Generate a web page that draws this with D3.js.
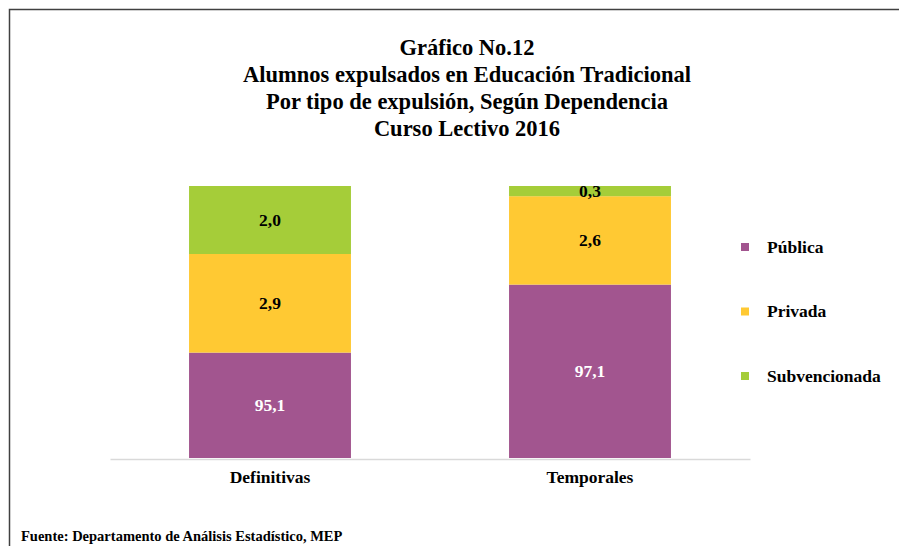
<!DOCTYPE html>
<html>
<head>
<meta charset="utf-8">
<script src="https://cdn.jsdelivr.net/npm/d3@7"></script>
<style>
  body { margin: 0; background: #fff; }
  svg text { font-family: "Liberation Serif", Tinos, "Times New Roman", Times, "DejaVu Serif", serif !important; font-weight: bold; }
</style>
</head>
<body>
<script>
// stacked bars, axis cut at 92 like the original

const categories = ['Definitivas', 'Temporales'];
const series = ['Pública', 'Privada', 'Subvencionada'];
const publica = [95.1, 97.1];
const privada = [2.9, 2.6];
const subvencionada = [2.0, 0.3];
const titleLines = ['Gráfico No.12', 'Alumnos expulsados en Educación Tradicional',
  'Por tipo de expulsión, Según Dependencia', 'Curso Lectivo 2016'];
const source = 'Fuente: Departamento de Análisis Estadístico, MEP';

const colors = ['#a2558f', '#ffc933', '#a5cd39'];

const rows = categories.map((c, i) => ({
  cat: c,
  'Pública': publica[i],
  'Privada': privada[i],
  'Subvencionada': subvencionada[i]
}));

const svgWidth = 899;
const svgHeight = 546;

const svg = d3.select('body').append('svg')
  .attr('width', svgWidth)
  .attr('height', svgHeight);

// frame (left + top)
svg.append('path')
  .attr('d', 'M9.5,546 V9.5 H899')
  .attr('fill', 'none')
  .attr('stroke', '#404040')
  .attr('stroke-width', 1.5);

// title
svg.append('g').selectAll('text')
  .data(titleLines)
  .enter()
  .append('text')
  .attr('x', 467)
  .attr('y', (d, i) => 55 + i * 27)
  .attr('text-anchor', 'middle')
  .attr('font-size', 22.5)
  .attr('fill', '#000')
  .text(d => d);

const xScale = d3.scaleBand()
  .domain(categories)
  .range([110, 750])
  .paddingInner(0.494)
  .paddingOuter(0.247);

const yScale = d3.scaleLinear()
  .domain([92, 100])
  .range([458, 186])
  .clamp(true);

const stacked = d3.stack().keys(series)(rows);

const layers = svg.selectAll('g.layer')
  .data(stacked)
  .enter()
  .append('g')
  .attr('class', 'layer')
  .attr('fill', (d, i) => colors[i]);

layers.selectAll('rect')
  .data(d => d)
  .enter()
  .append('rect')
  .attr('x', d => xScale(d.data.cat))
  .attr('width', xScale.bandwidth())
  .attr('y', d => yScale(d[1]))
  .attr('height', d => yScale(d[0]) - yScale(d[1]));

// value labels
layers.each(function(layer, li) {
  d3.select(this).selectAll('text')
    .data(layer)
    .enter()
    .append('text')
    .attr('x', d => xScale(d.data.cat) + xScale.bandwidth() / 2)
    .attr('y', d => (yScale(d[0]) + yScale(d[1])) / 2 + 6)
    .attr('text-anchor', 'middle')
    .attr('font-size', 17.5)
    .attr('fill', li === 0 ? '#fff' : '#000')
    .text(d => d3.format('.1f')(d[1] - d[0]).replace('.', ','));
});

// x axis
const xAxis = d3.axisBottom(xScale).tickSize(0).tickPadding(12);
const axisG = svg.append('g')
  .attr('transform', 'translate(0,459)')
  .call(xAxis);
axisG.select('.domain').attr('stroke', '#d9d9d9').attr('stroke-width', 1.5);
axisG.selectAll('.tick text')
  .attr('font-size', 17.5)
  .attr('fill', '#000');

// legend
const legend = svg.append('g').selectAll('g')
  .data(series)
  .enter()
  .append('g')
  .attr('transform', (d, i) => `translate(741,${247 + i * 64.5})`);

legend.append('rect')
  .attr('x', 0)
  .attr('y', -4)
  .attr('width', 8)
  .attr('height', 8)
  .attr('fill', (d, i) => colors[i]);

legend.append('text')
  .attr('x', 26)
  .attr('y', 5.5)
  .attr('font-size', 17.5)
  .attr('fill', '#000')
  .text(d => d);

// source
svg.append('text')
  .attr('x', 21)
  .attr('y', 541)
  .attr('font-size', 14.5)
  .attr('fill', '#000')
  .text(source);
</script>
</body>
</html>
